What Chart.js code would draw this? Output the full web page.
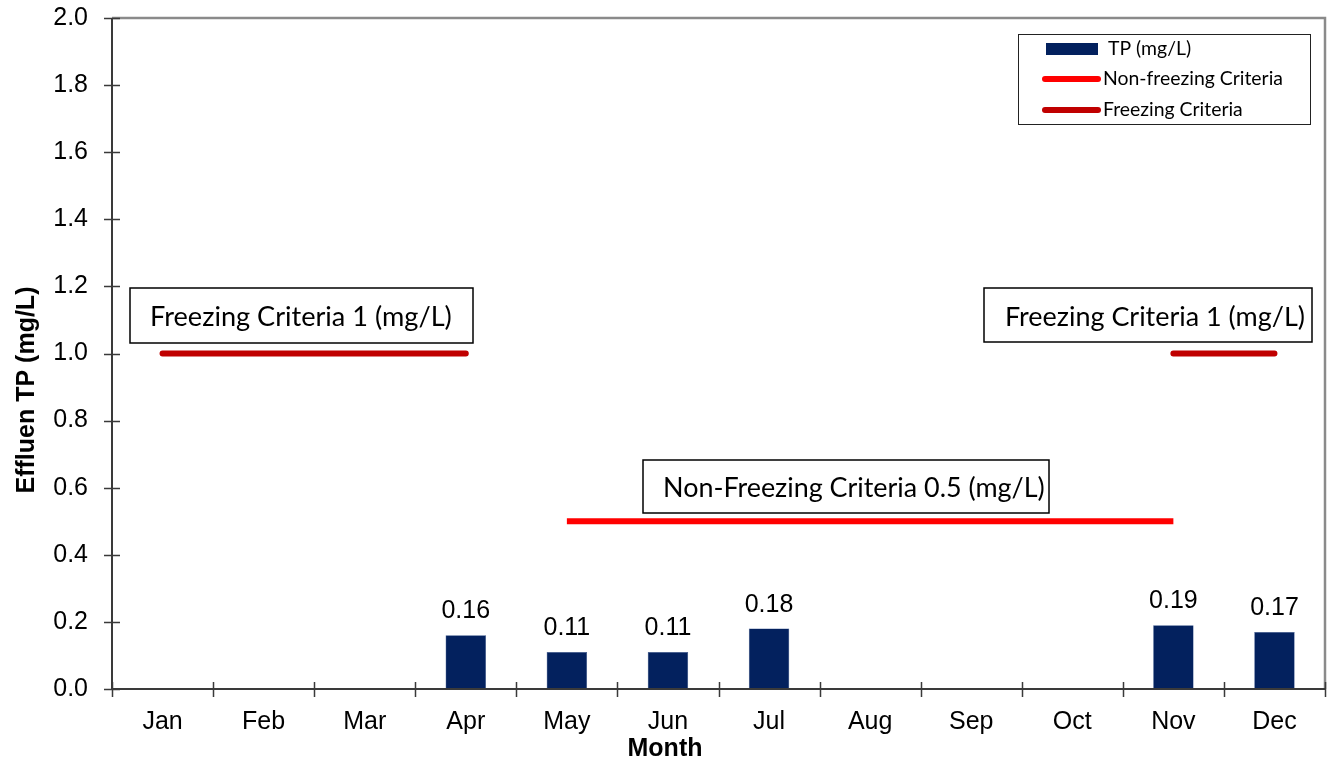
<!DOCTYPE html>
<html>
<head>
<meta charset="utf-8">
<title>Effluent TP</title>
<script src="https://cdn.jsdelivr.net/npm/chart.js@4/dist/chart.umd.min.js"></script>
<style>
  html, body { margin: 0; padding: 0; background: #ffffff; }
  #wrap { width: 1331px; height: 761px; }
</style>
</head>
<body>
<div id="wrap"><canvas id="chart" width="1331" height="761"></canvas></div>
<script>
// Monthly effluent total phosphorus and permit criteria
const months = ['Jan', 'Feb', 'Mar', 'Apr', 'May', 'Jun', 'Jul', 'Aug', 'Sep', 'Oct', 'Nov', 'Dec'];
const tpValues = [null, null, null, 0.16, 0.11, 0.11, 0.18, null, null, null, 0.19, 0.17];
const nonFreezingCriteria = [null, null, null, null, 0.5, 0.5, 0.5, 0.5, 0.5, 0.5, 0.5, null];
const freezingCriteria = [1, 1, 1, 1, null, null, null, null, null, null, 1, 1];
const yMin = 0, yMax = 2, yStep = 0.2;

const seriesNames = ['TP (mg/L)', 'Non-freezing Criteria', 'Freezing Criteria'];
const calloutTexts = ['Freezing Criteria 1 (mg/L)', 'Freezing Criteria 1 (mg/L)', 'Non-Freezing Criteria 0.5 (mg/L)'];

const NAVY = '#03215e';
const RED = '#ff0000';
const DARK_RED = '#c00000';
const ARIAL = '"Liberation Sans", Arial, sans-serif';
const CALIBRI = 'Lato, "Open Sans", sans-serif';

// size a font so that text spans a given width
function fitFont(ctx, text, width, weight) {
  ctx.font = (weight || '') + ' 100px ' + CALIBRI;
  const w = ctx.measureText(text).width;
  return (weight || '') + ' ' + (100 * width / w).toFixed(2) + 'px ' + CALIBRI;
}

// keep the plot area edges where the layout padding puts them
function noOverflowPadding(scale) {
  scale.paddingTop = 0;
  scale.paddingBottom = 0;
  scale.paddingLeft = 0;
  scale.paddingRight = 0;
}

const chartDecor = {
  id: 'chartDecor',
  beforeDraw(chart) {
    const ctx = chart.ctx;
    ctx.save();
    ctx.fillStyle = '#ffffff';
    ctx.fillRect(0, 0, chart.width, chart.height);
    ctx.restore();
  },
  afterDraw(chart) {
    const ctx = chart.ctx;
    const area = chart.chartArea;
    const ys = chart.scales.y;
    ctx.save();

    // plot frame: grey top and right edges
    ctx.strokeStyle = '#8a8a8a';
    ctx.lineWidth = 2.5;
    ctx.beginPath();
    ctx.moveTo(area.left, area.top);
    ctx.lineTo(area.right, area.top);
    ctx.lineTo(area.right, area.bottom);
    ctx.stroke();

    // axis lines
    ctx.strokeStyle = '#3a3a3a';
    ctx.lineWidth = 2;
    ctx.beginPath();
    ctx.moveTo(area.left, area.top);
    ctx.lineTo(area.left, area.bottom);
    ctx.lineTo(area.right, area.bottom);
    ctx.stroke();

    // cross tick marks
    ctx.lineWidth = 1.5;
    ctx.beginPath();
    ys.ticks.forEach(t => {
      const y = Math.round(ys.getPixelForValue(t.value)) + 0.5;
      ctx.moveTo(area.left - 8, y);
      ctx.lineTo(area.left + 8, y);
    });
    const n = months.length;
    for (let i = 0; i <= n; i++) {
      const x = Math.round(area.left + i * (area.right - area.left) / n) + 0.5;
      ctx.moveTo(x, area.bottom - 7);
      ctx.lineTo(x, area.bottom + 8);
    }
    ctx.stroke();

    // value labels above the bars
    const barMeta = chart.getDatasetMeta(0);
    ctx.fillStyle = '#000000';
    ctx.font = '25px ' + ARIAL;
    ctx.textAlign = 'center';
    ctx.textBaseline = 'alphabetic';
    barMeta.data.forEach((el, i) => {
      const v = tpValues[i];
      if (v === null) return;
      ctx.fillText(v.toFixed(2), el.x, el.y - 17);
    });

    // callout boxes
    const boxes = [
      { x: 130, y: 288, w: 343, h: 55, tx: 150, tw: 302, text: calloutTexts[0] },
      { x: 984, y: 288, w: 328, h: 54, tx: 1005, tw: 300, text: calloutTexts[1] },
      { x: 643, y: 460, w: 406, h: 53, tx: 663, tw: 382, text: calloutTexts[2] }
    ];
    boxes.forEach(b => {
      ctx.fillStyle = '#ffffff';
      ctx.fillRect(b.x, b.y, b.w, b.h);
      ctx.strokeStyle = '#000000';
      ctx.lineWidth = 1.5;
      ctx.strokeRect(b.x, b.y, b.w, b.h);
      ctx.fillStyle = '#000000';
      ctx.font = fitFont(ctx, b.text, b.tw);
      ctx.textAlign = 'left';
      ctx.textBaseline = 'middle';
      ctx.fillText(b.text, b.tx, b.y + b.h / 2 + 2);
    });

    // legend
    const lg = { x: 1018, y: 34, w: 292, h: 90 };
    ctx.fillStyle = '#ffffff';
    ctx.fillRect(lg.x, lg.y, lg.w, lg.h);
    ctx.strokeStyle = '#222222';
    ctx.lineWidth = 1;
    ctx.strokeRect(lg.x + 0.5, lg.y + 0.5, lg.w, lg.h);
    const legendFont = fitFont(ctx, seriesNames[1], 180);
    const rows = [49, 79, 110];
    // bar swatch
    ctx.fillStyle = chart.data.datasets[0].backgroundColor;
    ctx.fillRect(1046, rows[0] - 6, 52, 12);
    // line swatches
    ctx.lineCap = 'round';
    ctx.lineWidth = 6;
    [1, 2].forEach(k => {
      ctx.strokeStyle = chart.data.datasets[k].borderColor;
      ctx.beginPath();
      ctx.moveTo(1045, rows[k]);
      ctx.lineTo(1098, rows[k]);
      ctx.stroke();
    });
    ctx.fillStyle = '#000000';
    ctx.font = legendFont;
    ctx.textAlign = 'left';
    ctx.textBaseline = 'middle';
    ctx.fillText(seriesNames[0], 1108, rows[0]);
    ctx.fillText(seriesNames[1], 1103, rows[1]);
    ctx.fillText(seriesNames[2], 1103, rows[2]);

    // axis titles
    ctx.font = 'bold 25px ' + ARIAL;
    ctx.textAlign = 'center';
    ctx.textBaseline = 'middle';
    ctx.fillText('Month', 665, 749);
    ctx.translate(27, 390);
    ctx.rotate(-Math.PI / 2);
    ctx.fillText('Effluen TP (mg/L)', 0, 0);

    ctx.restore();
  }
};

new Chart(document.getElementById('chart'), {
  type: 'bar',
  data: {
    labels: months,
    datasets: [
      {
        type: 'bar',
        label: seriesNames[0],
        data: tpValues,
        backgroundColor: NAVY,
        borderColor: '#2a4a86',
        borderWidth: 0.5,
        barPercentage: 0.4,
        categoryPercentage: 1.0,
        order: 3
      },
      {
        type: 'line',
        label: seriesNames[1],
        data: nonFreezingCriteria,
        borderColor: RED,
        backgroundColor: RED,
        borderWidth: 6,
        borderCapStyle: 'butt',
        pointRadius: 0,
        pointHoverRadius: 0,
        spanGaps: false,
        fill: false,
        order: 1
      },
      {
        type: 'line',
        label: seriesNames[2],
        data: freezingCriteria,
        borderColor: DARK_RED,
        backgroundColor: DARK_RED,
        borderWidth: 6,
        borderCapStyle: 'round',
        pointRadius: 0,
        pointHoverRadius: 0,
        spanGaps: false,
        fill: false,
        order: 2
      }
    ]
  },
  options: {
    responsive: false,
    animation: false,
    devicePixelRatio: 1,
    layout: { padding: { left: 0, right: 6, top: 18, bottom: 0 } },
    plugins: {
      legend: { display: false },
      tooltip: { enabled: false },
      title: { display: false }
    },
    scales: {
      x: {
        offset: true,
        grid: { display: false, drawTicks: false },
        border: { display: false },
        ticks: {
          color: '#000000',
          font: { family: ARIAL, size: 25 },
          padding: 18,
          maxRotation: 0,
          autoSkip: false
        },
        afterFit(scale) { scale.height = 72; noOverflowPadding(scale); }
      },
      y: {
        min: yMin,
        max: yMax,
        grid: { display: false, drawTicks: false },
        border: { display: false },
        ticks: {
          stepSize: yStep,
          color: '#000000',
          font: { family: ARIAL, size: 25 },
          padding: 24,
          callback: v => Number(v).toFixed(1)
        },
        afterFit(scale) { scale.width = 112; noOverflowPadding(scale); }
      }
    }
  },
  plugins: [chartDecor]
});
</script>
</body>
</html>
